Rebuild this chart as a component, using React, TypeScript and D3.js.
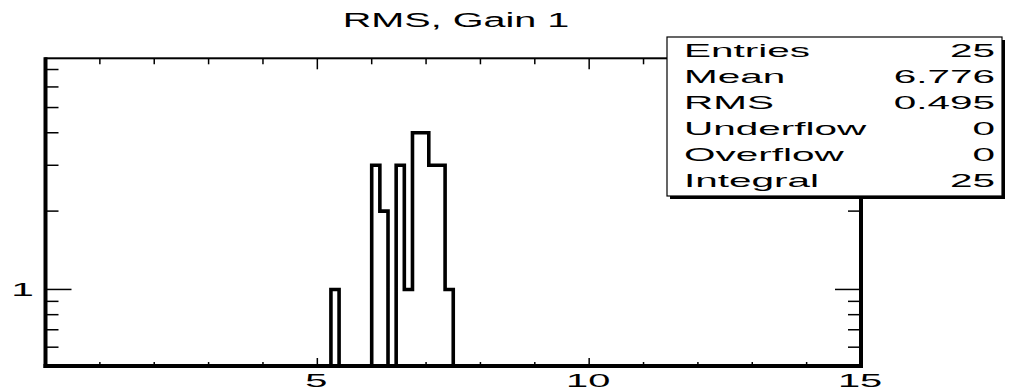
import React, { useEffect, useRef } from 'react';
import * as d3 from 'd3';

// histogram: 100 bins of 0.15 on [0, 15], only non-empty bins listed
const binLow = [5.25, 6.0, 6.15, 6.45, 6.6, 6.75, 6.9, 7.05, 7.2, 7.35];
const binCounts = [1, 3, 2, 3, 1, 4, 4, 3, 3, 1];
const binWidth = 0.15;
const nBins = 100;

const xMajor = [5, 10, 15];
const xMinor = [1, 2, 3, 4, 6, 7, 8, 9, 11, 12, 13, 14];
const yMajor = [1];
const yMinor = [0.6, 0.7, 0.8, 0.9, 2, 3, 4, 5, 6, 7];

const statLabels = ['Entries', 'Mean', 'RMS', 'Underflow', 'Overflow', 'Integral'];
const statValues = ['25', '6.776', '0.495', '0', '0', '25'];

const title = 'RMS, Gain 1';

const W = 1018;
const H = 390;
const left = 45.5;
const right = 861;
const top = 58.3;
const bottom = 366;
const font = '"Liberation Sans", Arial, sans-serif';

const App = () => {
  const svgRef = useRef(null);

  useEffect(() => {
    const svg = d3.select(svgRef.current);
    svg.selectAll('*').remove();

    const x = d3.scaleLinear().domain([0, 15]).range([left, right]);
    const y = d3.scaleLog().domain([0.508, 7.73]).range([bottom, top]);

    // stretched text helper (the picture is wide-scaled)
    const label = (g, tx, ty, str, size, sx, anchor) =>
      g
        .append('text')
        .attr('transform', `translate(${tx},${ty}) scale(${sx},1)`)
        .attr('font-family', font)
        .attr('font-size', size)
        .attr('text-anchor', anchor)
        .attr('fill', '#000')
        .text(str);

    svg.append('clipPath').attr('id', 'frameClip')
      .append('rect')
      .attr('x', left).attr('y', top)
      .attr('width', right - left).attr('height', bottom - top);

    // histogram outline
    const counts = new Array(nBins).fill(0);
    binLow.forEach((lo, i) => {
      counts[Math.round(lo / binWidth)] = binCounts[i];
    });
    const pts = [];
    counts.forEach((c, i) => {
      const yy = c > 0 ? y(c) : bottom + 20;
      pts.push([x(i * binWidth), yy]);
      pts.push([x((i + 1) * binWidth), yy]);
    });
    svg.append('path')
      .attr('d', d3.line()(pts))
      .attr('fill', 'none')
      .attr('stroke', '#000')
      .attr('stroke-width', 3.6)
      .attr('stroke-linejoin', 'miter')
      .attr('clip-path', 'url(#frameClip)');

    // frame
    svg.append('rect')
      .attr('x', left).attr('y', top)
      .attr('width', right - left).attr('height', bottom - top)
      .attr('fill', 'none').attr('stroke', '#000').attr('stroke-width', 2);
    svg.append('line').attr('x1', left).attr('x2', left).attr('y1', top - 1).attr('y2', bottom + 2)
      .attr('stroke', '#000').attr('stroke-width', 4);
    svg.append('line').attr('x1', left - 2).attr('x2', right + 2).attr('y1', bottom).attr('y2', bottom)
      .attr('stroke', '#000').attr('stroke-width', 4);
    svg.append('line').attr('x1', right).attr('x2', right).attr('y1', top - 1).attr('y2', bottom + 2)
      .attr('stroke', '#000').attr('stroke-width', 4);

    // x ticks, bottom and top
    const tick = (x1, y1, x2, y2, w) =>
      svg.append('line').attr('x1', x1).attr('y1', y1).attr('x2', x2).attr('y2', y2)
        .attr('stroke', '#000').attr('stroke-width', w);
    xMinor.forEach((v) => {
      tick(x(v), bottom, x(v), bottom - 4, 1.5);
      tick(x(v), top, x(v), top + 6, 1.5);
    });
    xMajor.forEach((v) => {
      tick(x(v), bottom, x(v), bottom - 8, 1.5);
      tick(x(v), top, x(v), top + 11, 1.5);
      label(svg, x(v) - 1, 387, String(v), 18.5, 2.15, 'middle');
    });

    // y ticks, left and right
    yMinor.forEach((v) => {
      tick(left, y(v), left + 13, y(v), 1.5);
      tick(right, y(v), right - 13, y(v), 1.5);
    });
    yMajor.forEach((v) => {
      tick(left, y(v), left + 26, y(v), 1.5);
      tick(right, y(v), right - 26, y(v), 1.5);
      label(svg, 34, y(v) + 6.5, String(v), 18.5, 2.2, 'end');
    });

    // title
    label(svg, 456, 27.3, title, 19.5, 2.03, 'middle');

    // stats box
    const bx = 667;
    const by = 37;
    const bw = 335;
    const bh = 159;
    svg.append('rect').attr('x', bx + 3).attr('y', by + 3).attr('width', bw).attr('height', bh).attr('fill', '#000');
    svg.append('rect').attr('x', bx).attr('y', by).attr('width', bw).attr('height', bh)
      .attr('fill', '#fff').attr('stroke', '#000').attr('stroke-width', 1.2);
    statLabels.forEach((s, i) => {
      const ty = 57 + i * 26;
      label(svg, 684, ty, s, 18, 2.25, 'start');
      label(svg, 995, ty, statValues[i], 18, 2.25, 'end');
    });
  }, []);

  return (
    <svg
      ref={svgRef}
      width={W}
      height={H}
      style={{ position: 'absolute', left: 0, top: 0, background: '#fff' }}
    />
  );
};

export default App;
